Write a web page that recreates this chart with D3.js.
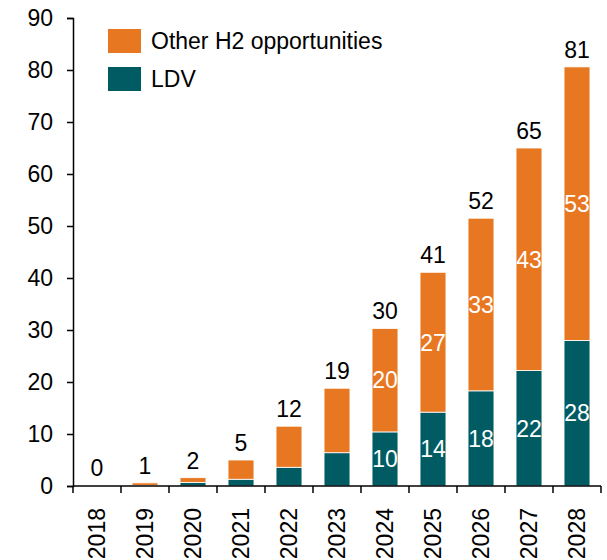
<!DOCTYPE html>
<html>
<head>
<meta charset="utf-8">
<script src="https://cdn.jsdelivr.net/npm/d3@7"></script>
<style>
  body { margin: 0; background: #fff; }
  text { font-family: "Liberation Sans", Arial, sans-serif; }
</style>
</head>
<body>
<div id="chart-area"></div>
<script>
// data
var years = ['2018', '2019', '2020', '2021', '2022', '2023', '2024', '2025', '2026', '2027', '2028'];
var ldv = [0.05, 0.1, 0.7, 1.3, 3.6, 6.4, 10.4, 14.2, 18.3, 22.2, 28.0];
var other = [0.05, 0.5, 0.9, 3.7, 7.9, 12.4, 19.9, 26.9, 33.2, 42.8, 52.6];
var yTicks = [0, 10, 20, 30, 40, 50, 60, 70, 80, 90];
var seriesNames = ['Other H2 opportunities', 'LDV'];
var colors = { ldv: '#005B63', other: '#E87722' };
var firstLabelledYear = 2024;

var fontSize = '23px';

var margin = { left: 73, right: 6, top: 18, bottom: 74 };
var width = 607 - margin.left - margin.right;
var height = 560 - margin.top - margin.bottom;

var svg = d3.select('#chart-area')
  .append('svg')
    .attr('width', 607)
    .attr('height', 560);

var area = svg.append('g')
  .attr('transform', 'translate(' + margin.left + ', ' + margin.top + ')');

var data = years.map(function(y, i) {
  return { year: y, ldv: ldv[i], other: other[i] };
});

var x = d3.scaleBand()
  .domain(years)
  .range([0, width])
  .paddingInner(0.46)
  .paddingOuter(0.23);

var y = d3.scaleLinear()
  .domain([0, 90])
  .range([height, 0]);

var stack = d3.stack().keys(['ldv', 'other']);
var layers = stack(data);

// bars
area.selectAll('g.layer')
  .data(layers)
  .enter()
  .append('g')
    .attr('class', 'layer')
    .attr('fill', function(d) { return colors[d.key]; })
  .selectAll('rect')
  .data(function(d) { return d; })
  .enter()
  .append('rect')
    .attr('x', function(d) { return x(d.data.year); })
    .attr('y', function(d) { return y(d[1]); })
    .attr('width', x.bandwidth())
    .attr('height', function(d) { return y(d[0]) - y(d[1]); })
    .attr('stroke', '#fff')
    .attr('stroke-width', 0.8);

// labels inside segments
layers.forEach(function(layer) {
  area.selectAll('text.in-' + layer.key)
    .data(layer.filter(function(d) { return +d.data.year >= firstLabelledYear; }))
    .enter()
    .append('text')
      .attr('class', 'in-' + layer.key)
      .attr('x', function(d) { return x(d.data.year) + x.bandwidth() / 2; })
      .attr('y', function(d) { return y((d[0] + d[1]) / 2); })
      .attr('dy', '0.36em')
      .attr('text-anchor', 'middle')
      .attr('font-size', fontSize)
      .attr('fill', '#fff')
      .text(function(d) { return Math.round(d[1] - d[0]); });
});

// totals on top
area.selectAll('text.total')
  .data(data)
  .enter()
  .append('text')
    .attr('class', 'total')
    .attr('x', function(d) { return x(d.year) + x.bandwidth() / 2; })
    .attr('y', function(d) { return y(d.ldv + d.other) - 9; })
    .attr('text-anchor', 'middle')
    .attr('font-size', fontSize)
    .attr('fill', '#000')
    .text(function(d) { return Math.round(d.ldv + d.other); });

// Y axis
var yAxis = area.append('g')
  .call(d3.axisLeft(y).tickValues(yTicks).tickSize(6).tickPadding(14));
yAxis.selectAll('text').attr('font-size', fontSize).attr('fill', '#000');
yAxis.selectAll('line').attr('stroke', '#000').attr('stroke-width', 1.5);
yAxis.select('.domain').attr('stroke', '#000').attr('stroke-width', 1.5);

// X axis: ticks sit on band edges
var xAxis = area.append('g')
  .attr('transform', 'translate(0, ' + height + ')');

xAxis.append('line')
  .attr('x1', 0).attr('x2', width)
  .attr('stroke', '#000').attr('stroke-width', 1.5);

var step = x.step();
var edges = years.map(function(d) { return x(d) - x.paddingInner() * step / 2; }).concat([width]);
xAxis.selectAll('line.edge')
  .data(edges)
  .enter()
  .append('line')
    .attr('class', 'edge')
    .attr('x1', function(d) { return d; })
    .attr('x2', function(d) { return d; })
    .attr('y1', 0)
    .attr('y2', 7)
    .attr('stroke', '#000')
    .attr('stroke-width', 1.5);

xAxis.selectAll('text.year')
  .data(years)
  .enter()
  .append('text')
    .attr('class', 'year')
    .attr('transform', function(d) {
      return 'translate(' + (x(d) + x.bandwidth() / 2) + ', 22) rotate(-90)';
    })
    .attr('dy', '0.36em')
    .attr('text-anchor', 'end')
    .attr('font-size', fontSize)
    .attr('fill', '#000')
    .text(function(d) { return d; });

// legend
var legend = svg.append('g')
  .attr('transform', 'translate(108, 29)');

var legendColors = [colors.other, colors.ldv];
seriesNames.forEach(function(name, i) {
  var row = legend.append('g')
    .attr('transform', 'translate(0, ' + (i * 38) + ')');
  row.append('rect')
    .attr('width', 33)
    .attr('height', 24)
    .attr('fill', legendColors[i]);
  row.append('text')
    .attr('x', 43)
    .attr('y', 12)
    .attr('dy', '0.36em')
    .attr('font-size', fontSize)
    .attr('fill', '#000')
    .text(name);
});
</script>
</body>
</html>
